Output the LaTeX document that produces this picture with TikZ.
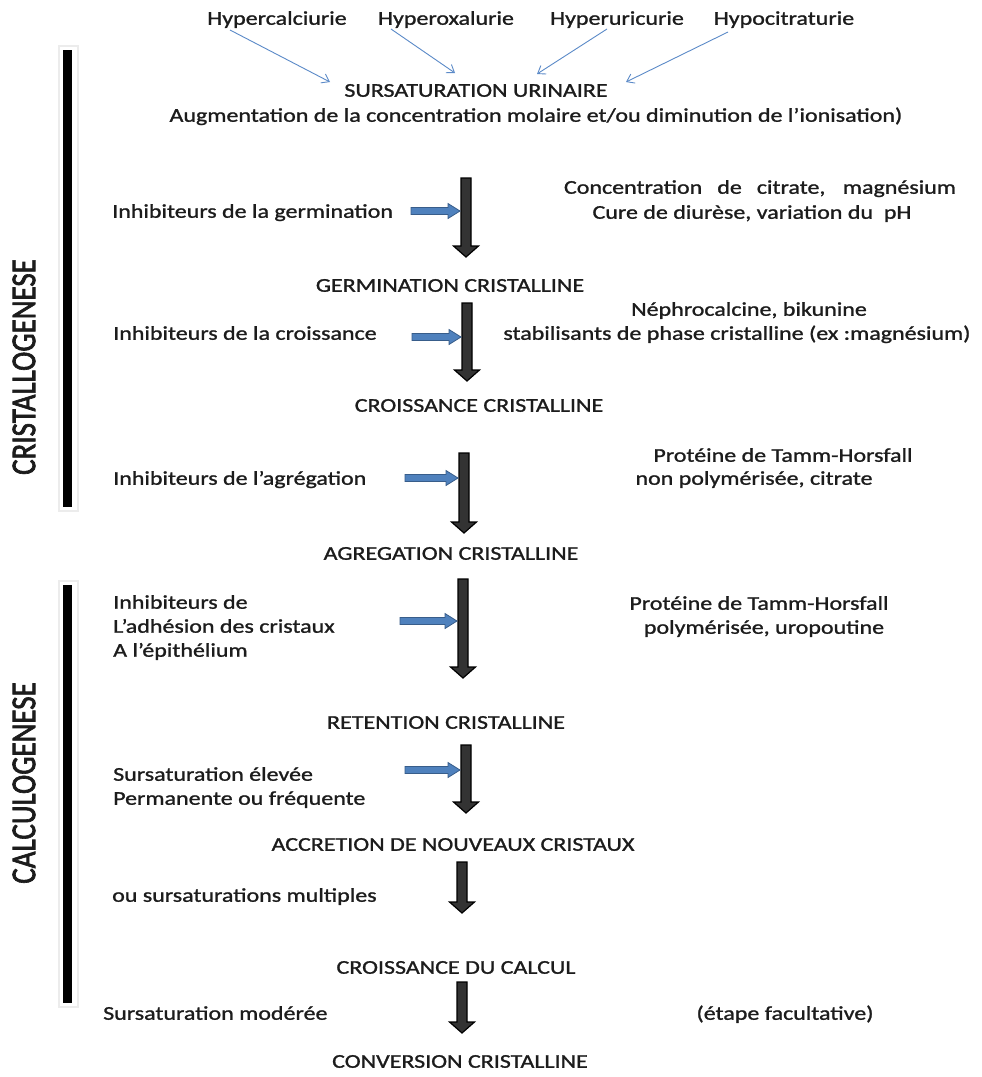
\documentclass[tikz,border=0pt]{standalone}
\usepackage{fontspec}
\setmainfont{Carlito}[FakeStretch=1.23,FakeBold=1.2]
\newfontfamily\vfont{Carlito}[FakeBold=2.2]
\usetikzlibrary{arrows.meta,calc}
\definecolor{bluefill}{HTML}{4F81BD}
\definecolor{blueline}{HTML}{385D8A}
\definecolor{thinblue}{HTML}{5B8AC8}
\definecolor{txt}{HTML}{1C1C1C}
\definecolor{arrowgrey}{HTML}{333333}
\newcommand\bigdown[2]{%
  \filldraw[fill=arrowgrey, draw=black, line width=1.2pt, line join=miter]
  ($(#1)+(-5,0)$) -- ($(#2)+(-5,-11)$) -- ($(#2)+(-12.5,-11)$) -- (#2) --
  ($(#2)+(12.5,-11)$) -- ($(#2)+(5,-11)$) -- ($(#1)+(5,0)$) -- cycle;}
\newcommand\bluearr[2]{%
  \filldraw[fill=bluefill, draw=blueline, line width=0.8pt, line join=miter]
  ($(#1)+(0,-3.5)$) -- ($(#2)+(-12,-3.5)$) -- ($(#2)+(-12,-7.5)$) -- (#2) --
  ($(#2)+(-12,7.5)$) -- ($(#2)+(-12,3.5)$) -- ($(#1)+(0,3.5)$) -- cycle;}
\begin{document}
\begin{tikzpicture}[x=1pt,y=-1pt,
  lbl/.style={inner sep=0pt, font=\fontsize{19.5}{24}\selectfont, text=txt, text height=13.5pt, text depth=4pt},
  stage/.style={lbl},
  side/.style={lbl, anchor=west},
  multi/.style={inner sep=0pt, font=\fontsize{19.5}{24}\selectfont, text=txt, align=left, anchor=north west},
  vlab/.style={inner sep=0pt, rotate=90, text=txt, font=\vfont\fontsize{29}{30}\selectfont},
  thinarrow/.style={draw=thinblue, line width=0.9pt, -{Straight Barb[length=7pt,width=10pt]}}
  ]
\fill[white] (0,0) rectangle (982,1077);
\useasboundingbox (0,0) rectangle (982,1077);

% side bars
\fill[gray!15] (58,45) rectangle (79,512);
\fill[white] (60,47) rectangle (77,510);
\fill[black] (63,50) rectangle (72,507);
\fill[gray!15] (58,580) rectangle (79,1008);
\fill[white] (60,582) rectangle (77,1006);
\fill[black] (63,585) rectangle (72,1003);
\node[vlab] (cristallo) at (24,367) {\scalebox{1}[1.2]{CRISTALLOGENESE}};
\node[vlab] (calculo) at (24,783) {\scalebox{1}[1.2]{CALCULOGENESE}};

% top causes
\node[lbl] (hca) at (277,20) {Hypercalciurie};
\node[lbl] (hox) at (446,20) {Hyperoxalurie};
\node[lbl] (hur) at (617,20) {Hyperuricurie};
\node[lbl] (hci) at (784,20) {Hypocitraturie};
\node[stage] (sur) at (476,92) {SURSATURATION URINAIRE};
\node[lbl] (aug) at (536,117) {Augmentation de la concentration molaire et/ou diminution de l'ionisation)};
\coordinate (a1s) at (230,30); \coordinate (a1e) at (330,82);
\coordinate (a2s) at (391,29); \coordinate (a2e) at (455,73);
\coordinate (a3s) at (607,29); \coordinate (a3e) at (537,74);
\coordinate (a4s) at (728,32); \coordinate (a4e) at (626,82);
\draw[thinarrow] (a1s) -- (a1e);
\draw[thinarrow] (a2s) -- (a2e);
\draw[thinarrow] (a3s) -- (a3e);
\draw[thinarrow] (a4s) -- (a4e);

% stages
\node[stage] (germ) at (450,287) {GERMINATION CRISTALLINE};
\node[stage] (crois) at (479,407) {CROISSANCE CRISTALLINE};
\node[stage] (agreg) at (451,555) {AGREGATION CRISTALLINE};
\node[stage] (reten) at (446,724) {RETENTION CRISTALLINE};
\node[stage] (accr) at (453,846) {ACCRETION DE NOUVEAUX CRISTAUX};
\node[stage] (calc) at (456,969) {CROISSANCE DU CALCUL};
\node[stage] (conv) at (460,1063) {CONVERSION CRISTALLINE};

% black arrows
\coordinate (b1s) at (466,178); \coordinate (b1e) at (466,257);
\coordinate (b2s) at (467,303); \coordinate (b2e) at (467,381);
\coordinate (b3s) at (464,453); \coordinate (b3e) at (464,533);
\coordinate (b4s) at (463,579); \coordinate (b4e) at (463,678);
\coordinate (b5s) at (466,745); \coordinate (b5e) at (466,813);
\coordinate (b6s) at (462,862); \coordinate (b6e) at (462,913);
\coordinate (b7s) at (462,982); \coordinate (b7e) at (462,1033);
\bigdown{b1s}{b1e}
\bigdown{b2s}{b2e}
\bigdown{b3s}{b3e}
\bigdown{b4s}{b4e}
\bigdown{b5s}{b5e}
\bigdown{b6s}{b6e}
\bigdown{b7s}{b7e}

% left texts
\node[side] (ig) at (112,213) {Inhibiteurs de la germination};
\node[side] (ic) at (113,335) {Inhibiteurs de la croissance};
\node[side] (ia) at (113,480) {Inhibiteurs de l'agrégation};
\node[multi] (ie) at (113,595) {Inhibiteurs de\\L'adhésion des cristaux\\A l'épithélium};
\node[multi] (se) at (113,767) {Sursaturation élevée\\Permanente ou fréquente};
\node[side] (sm) at (112,897) {ou sursaturations multiples};
\node[side] (smod) at (103,1015) {Sursaturation modérée};

% blue arrows
\coordinate (c1s) at (411,211); \coordinate (c1e) at (460,211);
\coordinate (c2s) at (412,337); \coordinate (c2e) at (461,337);
\coordinate (c3s) at (405,478); \coordinate (c3e) at (458,478);
\coordinate (c4s) at (400,621); \coordinate (c4e) at (457,621);
\coordinate (c5s) at (405,770); \coordinate (c5e) at (460,770);
\bluearr{c1s}{c1e}
\bluearr{c2s}{c2e}
\bluearr{c3s}{c3e}
\bluearr{c4s}{c4e}
\bluearr{c5s}{c5e}

% right texts
\node[lbl] (r1a) at (760,189) {\makebox[392pt][s]{Concentration de citrate, magnésium}};
\node[lbl] (r1b) at (752,214) {Cure de diurèse, variation du~~pH};
\node[lbl] (r2a) at (749,311) {Néphrocalcine, bikunine};
\node[lbl] (r2b) at (737,335) {stabilisants de phase cristalline (ex :magnésium)};
\node[lbl] (r3a) at (783,457) {Protéine de Tamm-Horsfall};
\node[lbl] (r3b) at (754,480) {non polymérisée, citrate};
\node[lbl] (r4a) at (759,605) {Protéine de Tamm-Horsfall};
\node[lbl] (r4b) at (764,629) {polymérisée, uropoutine};
\node[lbl] (r7) at (785,1015) {(étape facultative)};
\end{tikzpicture}
\end{document}
